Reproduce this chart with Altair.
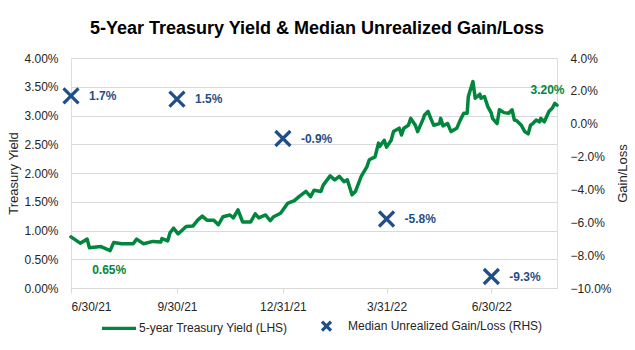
import altair as alt
import pandas as pd

# ---------------- data ----------------
yield_dates = [
    "2021-06-30", "2021-07-08", "2021-07-14", "2021-07-16", "2021-07-26", "2021-08-03",
    "2021-08-06", "2021-08-13", "2021-08-23", "2021-08-26", "2021-09-01", "2021-09-09",
    "2021-09-16", "2021-09-17", "2021-09-22", "2021-09-24", "2021-09-27", "2021-10-01",
    "2021-10-08", "2021-10-14", "2021-10-18", "2021-10-22", "2021-10-26", "2021-11-01",
    "2021-11-05", "2021-11-09", "2021-11-15", "2021-11-18", "2021-11-22", "2021-11-26",
    "2021-12-03", "2021-12-07", "2021-12-10", "2021-12-16", "2021-12-20", "2021-12-23",
    "2021-12-29", "2022-01-04", "2022-01-10", "2022-01-14", "2022-01-20", "2022-01-24",
    "2022-01-27", "2022-02-02", "2022-02-04", "2022-02-10", "2022-02-14", "2022-02-18",
    "2022-02-22", "2022-02-25", "2022-03-01", "2022-03-04", "2022-03-09", "2022-03-14",
    "2022-03-16", "2022-03-21", "2022-03-24", "2022-03-25", "2022-03-29", "2022-03-31",
    "2022-04-04", "2022-04-06", "2022-04-11", "2022-04-13", "2022-04-15", "2022-04-19",
    "2022-04-21", "2022-04-25", "2022-04-27", "2022-05-02", "2022-05-03", "2022-05-06",
    "2022-05-09", "2022-05-11", "2022-05-16", "2022-05-17", "2022-05-19", "2022-05-23",
    "2022-05-26", "2022-05-31", "2022-06-03", "2022-06-06", "2022-06-09", "2022-06-10",
    "2022-06-14", "2022-06-16", "2022-06-20", "2022-06-21", "2022-06-24", "2022-06-27",
    "2022-06-30", "2022-07-01", "2022-07-05", "2022-07-07", "2022-07-11", "2022-07-15",
    "2022-07-18", "2022-07-20", "2022-07-22", "2022-07-26", "2022-07-29", "2022-08-01",
    "2022-08-03", "2022-08-05", "2022-08-08", "2022-08-11", "2022-08-12", "2022-08-15",
    "2022-08-19", "2022-08-22", "2022-08-24", "2022-08-26",
]
yield_values = [
    0.89, 0.78, 0.85, 0.70, 0.72, 0.65,
    0.79, 0.77, 0.77, 0.85, 0.77, 0.81,
    0.80, 0.86, 0.82, 0.96, 1.04, 0.94,
    1.07, 1.08, 1.18, 1.25, 1.18, 1.18,
    1.10, 1.24, 1.27, 1.22, 1.36, 1.15,
    1.15, 1.29, 1.22, 1.27, 1.17, 1.24,
    1.30, 1.47, 1.52, 1.59, 1.68, 1.59,
    1.70, 1.68, 1.79, 1.95, 1.88, 1.94,
    1.85, 1.88, 1.62, 1.68, 1.94, 2.11,
    2.23, 2.28, 2.52, 2.46, 2.57, 2.45,
    2.57, 2.72, 2.78, 2.66, 2.78, 2.83,
    2.95, 2.83, 2.72, 2.95, 3.01, 3.07,
    2.92, 2.83, 2.86, 2.95, 2.82, 2.86,
    2.72, 2.78, 2.92, 3.04, 3.04, 3.33,
    3.59, 3.30, 3.37, 3.30, 3.33, 3.15,
    3.04, 2.95, 2.86, 3.10, 3.05, 3.04,
    3.10, 2.92, 2.91, 2.83, 2.72, 2.68,
    2.83, 2.86, 2.92, 2.89, 2.95, 2.89,
    3.07, 3.13, 3.21, 3.18,
]

gain_dates = ["2021-06-30", "2021-09-30", "2021-12-31", "2022-03-31", "2022-06-30"]
gain_values = [1.7, 1.5, -0.9, -5.8, -9.3]
gain_labels = ["1.7%", "1.5%", "-0.9%", "-5.8%", "-9.3%"]

low_date = ["2021-08-03"]
low_value = [0.65]
low_label = ["0.65%"]

last_date = ["2022-08-26"]
last_value = [3.18]
last_label = ["3.20%"]

lhs_name = "5-year Treasury Yield (LHS)"
rhs_name = "Median Unrealized Gain/Loss (RHS)"

tick_dates = [(2021, 6, 30), (2021, 9, 30), (2021, 12, 31), (2022, 3, 31), (2022, 6, 30)]
left_ticks = [0, 0.5, 1.0, 1.5, 2.0, 2.5, 3.0, 3.5, 4.0]
right_ticks = [-10, -8, -6, -4, -2, 0, 2, 4]

# ---------------- styling ----------------
GREEN = "#00873D"
BLUE = "#1F4E8A"
TEXT = "#262626"
FONT = "Liberation Sans"

X_PATH = "M-1,-1L1,1M-1,1L1,-1"
LEG_LINE = "M-5.6,0H1.2"
LEG_X = "M-3.4,-0.9L-1.6,0.9M-3.4,0.9L-1.6,-0.9"

yield_df = pd.DataFrame({"date": yield_dates, "value": yield_values})
gain_df = pd.DataFrame({"date": gain_dates, "value": gain_values, "label": gain_labels})
low_df = pd.DataFrame({"date": low_date, "value": low_value, "label": low_label})
last_df = pd.DataFrame({"date": last_date, "value": last_value, "label": last_label})

x_enc = alt.X(
    "date:T",
    scale=alt.Scale(
        type="utc",
        domain=[alt.DateTime(year=2021, month=6, date=30, utc=True),
                alt.DateTime(year=2022, month=8, date=26, utc=True)],
    ),
    axis=alt.Axis(
        values=[alt.DateTime(year=y, month=m, date=d, utc=True) for (y, m, d) in tick_dates],
        labelExpr="utcFormat(datum.value, '%-m/%-d/%y')",
        title=None, grid=False, domain=True, domainColor="#d9d9d9",
        ticks=True, tickColor="#d9d9d9", tickSize=5, labelPadding=8,
        labelFontSize=12, labelColor=TEXT, labelFont=FONT,
    ),
)

y_left = alt.Y(
    "value:Q",
    scale=alt.Scale(domain=[0, 4], nice=False, zero=False),
    axis=alt.Axis(
        orient="left", values=left_ticks,
        labelExpr="format(datum.value, '.2f') + '%'",
        title="Treasury Yield", titleFontSize=13, titleFontWeight="normal",
        titleColor=TEXT, titleFont=FONT, titlePadding=3,
        grid=True, gridColor="#d9d9d9", domain=False, ticks=False,
        labelPadding=13, labelFontSize=12, labelColor=TEXT, labelFont=FONT,
    ),
)

y_right = alt.Y(
    "value:Q",
    scale=alt.Scale(domain=[-10, 4], nice=False, zero=False),
    axis=alt.Axis(
        orient="right", values=right_ticks,
        labelExpr="format(datum.value, '.1f') + '%'",
        title="Gain/Loss", titleFontSize=13, titleFontWeight="normal",
        titleColor=TEXT, titleFont=FONT, titlePadding=5, titleAngle=270,
        titleBaseline="top",
        grid=False, domain=False, ticks=False,
        labelPadding=13, labelFontSize=12, labelColor=TEXT, labelFont=FONT,
    ),
)

line = alt.Chart(yield_df).mark_line(
    color=GREEN, strokeWidth=3.5, strokeJoin="round", strokeCap="round"
).encode(x=x_enc, y=y_left)

low_text = alt.Chart(low_df).mark_text(
    color=GREEN, fontWeight="bold", fontSize=12, font=FONT, dx=-1, dy=19.5,
    align="center", baseline="middle",
).encode(x=x_enc, y=y_left, text="label:N")

last_text = alt.Chart(last_df).mark_text(
    color=GREEN, fontWeight="bold", fontSize=12, font=FONT, dx=-9.5, dy=-15,
    align="center", baseline="middle",
).encode(x=x_enc, y=y_left, text="label:N")

left_group = alt.layer(line, low_text, last_text)

markers = alt.Chart(gain_df).mark_point(
    shape=X_PATH, size=225, color=BLUE, strokeWidth=3.2, filled=False, opacity=1,
).encode(x=x_enc, y=y_right)

marker_text = alt.Chart(gain_df).mark_text(
    color=BLUE, fontWeight="bold", fontSize=12, font=FONT, dx=18,
    align="left", baseline="middle",
).encode(x=x_enc, y=y_right, text="label:N")

legend_def = alt.Legend(
    title=None, orient="none", legendX=52, legendY=261, direction="horizontal",
    labelFontSize=12, labelFont=FONT, labelColor=TEXT, labelOffset=2, labelLimit=400,
    symbolSize=100, symbolStrokeWidth=3.2, symbolOpacity=1, columnPadding=27,
    padding=0,
)

legend_layer = alt.Chart(gain_df).transform_calculate(
    series=f"'{rhs_name}'"
).mark_point(filled=False, opacity=0).encode(
    x=x_enc, y=y_right,
    color=alt.Color("series:N", scale=alt.Scale(domain=[lhs_name, rhs_name], range=[GREEN, BLUE]),
                    legend=legend_def),
    shape=alt.Shape("series:N", scale=alt.Scale(domain=[lhs_name, rhs_name], range=[LEG_LINE, LEG_X]),
                    legend=legend_def),
)

right_group = alt.layer(markers, marker_text, legend_layer)

chart = alt.layer(left_group, right_group).resolve_scale(y="independent").properties(
    width=486, height=230,
    padding={"left": 71, "top": 58, "right": 78, "bottom": 62},
    autosize=alt.AutoSizeParams(type="none"),
    title=alt.TitleParams(
        "5-Year Treasury Yield & Median Unrealized Gain/Loss",
        fontSize=18, fontWeight="bold", font=FONT, color="#000000",
        anchor="middle", frame="group", offset=0, baseline="alphabetic", dx=3,
    ),
).configure_view(stroke=None).configure(background="white")

chart.save("out.html", embed_options={"renderer": "svg", "actions": False})
